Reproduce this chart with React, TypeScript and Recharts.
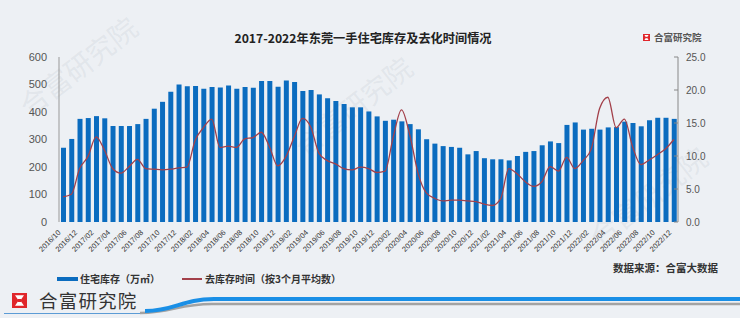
import { Bar, ComposedChart, Line, XAxis, YAxis } from 'recharts'

const months = [
  '2016/10', '2016/11', '2016/12',
  '2017/01', '2017/02', '2017/03', '2017/04', '2017/05', '2017/06', '2017/07', '2017/08', '2017/09', '2017/10', '2017/11', '2017/12',
  '2018/01', '2018/02', '2018/03', '2018/04', '2018/05', '2018/06', '2018/07', '2018/08', '2018/09', '2018/10', '2018/11', '2018/12',
  '2019/01', '2019/02', '2019/03', '2019/04', '2019/05', '2019/06', '2019/07', '2019/08', '2019/09', '2019/10', '2019/11', '2019/12',
  '2020/01', '2020/02', '2020/03', '2020/04', '2020/05', '2020/06', '2020/07', '2020/08', '2020/09', '2020/10', '2020/11', '2020/12',
  '2021/01', '2021/02', '2021/03', '2021/04', '2021/05', '2021/06', '2021/07', '2021/08', '2021/09', '2021/10', '2021/11', '2021/12',
  '2022/01', '2022/02', '2022/03', '2022/04', '2022/05', '2022/06', '2022/07', '2022/08', '2022/09', '2022/10', '2022/11', '2022/12',
]

// 住宅库存（万㎡）
const stock = [
  270, 302, 375,
  378, 385, 377, 349, 349, 349, 356, 375, 412, 437, 474, 500,
  494, 495, 485, 491, 489, 496, 485, 491, 488, 513, 513, 492,
  515, 509, 476, 480, 464, 450, 440, 429, 417, 417, 402, 384,
  368, 372, 366, 356, 337, 301, 285, 276, 273, 270, 246, 258,
  232, 228, 228, 224, 240, 255, 258, 279, 293, 287, 353, 362,
  336, 339, 336, 344, 345, 365, 360, 348, 370, 379, 379, 375,
]

// 去库存时间（按3个月平均数）
const months3 = [
  3.8, 4.2, 8.1,
  9.9, 12.9, 10.9, 8.1, 7.4, 8.4, 9.5, 8.1, 8.0, 7.9, 8.0, 8.2,
  8.3, 12.4, 14.3, 15.6, 11.3, 11.5, 11.3, 12.6, 12.8, 13.6, 11.4, 8.5,
  9.9, 12.9, 15.7, 14.4, 10.4, 9.3, 8.8, 8.1, 7.9, 8.3, 8.1, 7.5,
  7.7, 12.9, 17.0, 13.2, 7.4, 4.4, 3.6, 3.2, 3.3, 3.3, 3.2, 3.1,
  2.7, 2.5, 3.5, 8.1, 7.3, 6.1, 5.4, 6.1, 8.4, 7.7, 9.8, 8.1,
  9.3, 11.1, 17.2, 18.9, 14.3, 15.6, 11.4, 8.7, 9.4, 10.2, 11.1, 12.5,
]

const leftTicks = [0, 100, 200, 300, 400, 500, 600]
const rightTicks = [0, 5, 10, 15, 20, 25]

const data = months.map((m, i) => ({ month: m, stock: stock[i], time: months3[i] }))

const numFont = '"Liberation Sans", Arial, sans-serif'
const cjkFont = '"Noto Sans CJK SC", sans-serif'

const MonthTick = (props: any) => {
  const { x, y, payload } = props
  const ax = x - 2
  const ay = y + 3
  return (
    <text
      x={ax}
      y={ay}
      transform={`rotate(-45 ${ax} ${ay})`}
      textAnchor='end'
      fontSize={7.5}
      fontFamily={numFont}
      fill='#333'
    >
      {payload.value}
    </text>
  )
}

const RightTick = (props: any) => {
  const { x, y, payload } = props
  return (
    <g>
      <line x1={x - 12} x2={x - 8} y1={y} y2={y} stroke='#888' />
      <text x={x} y={y + 3.5} fontSize={10} fontFamily={numFont} fill='#555'>
        {Number(payload.value).toFixed(1)}
      </text>
    </g>
  )
}

const Logo = ({ size }: { size: number }) => (
  <svg width={size} height={size} viewBox='0 0 10 10' style={{ display: 'block' }}>
    <rect x='0' y='0' width='10' height='10' fill='#e0262b' />
    <path d='M2 1.5 H8 L5.6 5 L8 8.5 H2 L4.4 5 Z' fill='#fff' />
    <rect x='4' y='4' width='2' height='2' fill='#e0262b' />
  </svg>
)

const Watermark = ({ x, y }: { x: number; y: number }) => (
  <text
    x={x}
    y={y}
    transform={`rotate(-38 ${x} ${y})`}
    textAnchor='middle'
    fontSize={28}
    fontFamily={cjkFont}
    fill='rgba(150,160,175,0.14)'
  >
    合富研究院
  </text>
)

export default function App() {
  return (
    <div
      style={{
        position: 'fixed',
        left: 0,
        top: 0,
        width: 740,
        height: 318,
        background: '#edf0f4',
        overflow: 'hidden',
        fontFamily: cjkFont,
      }}
    >
      <svg width={740} height={318} style={{ position: 'absolute', left: 0, top: 0 }}>
        <Watermark x={85} y={75} />
        <Watermark x={360} y={115} />
        <Watermark x={655} y={205} />
      </svg>

      <div
        style={{
          position: 'absolute',
          left: 0,
          width: 726,
          top: 30,
          textAlign: 'center',
          fontSize: 12.2,
          fontWeight: 'bold',
          color: '#222',
          lineHeight: '16px',
        }}
      >
        2017-2022年东莞一手住宅库存及去化时间情况
      </div>

      <div style={{ position: 'absolute', left: 643, top: 32, display: 'flex', alignItems: 'center', gap: 4 }}>
        <Logo size={7} />
        <span style={{ fontSize: 9.5, color: '#555', fontWeight: 'bold', lineHeight: '10px' }}>合富研究院</span>
      </div>

      <div style={{ position: 'absolute', left: 0, top: 0 }}>
        <ComposedChart width={740} height={318} data={data} margin={{ top: 57, right: 0, left: 0, bottom: 0 }} barCategoryGap='38%'>
          <XAxis
            dataKey='month'
            interval={1}
            height={96}
            axisLine={false}
            tickLine={false}
            tick={<MonthTick />}
          />
          <YAxis
            yAxisId='left'
            domain={[0, 600]}
            ticks={leftTicks}
            width={59}
            axisLine={{ stroke: '#999' }}
            tickLine={false}
            tickMargin={6}
            tick={{ fontSize: 11, fill: '#555', fontFamily: numFont }}
          />
          <YAxis
            yAxisId='right'
            orientation='right'
            domain={[0, 25]}
            ticks={rightTicks}
            width={62}
            axisLine={{ stroke: '#888' }}
            tickLine={false}
            tick={<RightTick />}
          />
          <Bar yAxisId='left' dataKey='stock' fill='#0b6cbf' barSize={5} isAnimationActive={false} />
          <Line
            yAxisId='right'
            dataKey='time'
            type='monotone'
            stroke='#a3404a'
            strokeWidth={1.3}
            dot={false}
            isAnimationActive={false}
          />
        </ComposedChart>
      </div>

      <div
        style={{
          position: 'absolute',
          left: 57,
          top: 273,
          height: 12,
          lineHeight: '12px',
          display: 'flex',
          alignItems: 'center',
          fontSize: 10,
          fontWeight: 'bold',
          color: '#333',
        }}
      >
        <span style={{ display: 'inline-block', width: 21, height: 4, background: '#0b6cbf', marginRight: 2 }} />
        <span>住宅库存（万㎡）</span>
        <span style={{ display: 'inline-block', width: 20, height: 1.2, background: '#a3404a', marginLeft: 22, marginRight: 3 }} />
        <span>去库存时间（按3个月平均数）</span>
      </div>

      <div style={{ position: 'absolute', left: 613, top: 262, fontSize: 10.5, lineHeight: '12px', fontWeight: 'bold', color: '#333' }}>
        数据来源：合富大数据
      </div>

      <div style={{ position: 'absolute', left: 12, top: 290, height: 20, display: 'flex', alignItems: 'center', gap: 12 }}>
        <Logo size={15} />
        <span style={{ fontSize: 18.5, color: '#333', letterSpacing: 1.2, lineHeight: '20px' }}>合富研究院</span>
      </div>

      <svg width={740} height={318} style={{ position: 'absolute', left: 0, top: 0, pointerEvents: 'none' }}>
        <path d='M4 313.5 H145' stroke='#5b9bd5' strokeWidth={1} fill='none' />
        <path d='M140 313 C172 313 178 304 212 304 H740' stroke='#a3a3a3' strokeWidth={2.5} fill='none' />
        <path d='M145 311 C175 311 182 299 214 299 H740' stroke='#1a8fe6' strokeWidth={4} fill='none' />
      </svg>
    </div>
  )
}
